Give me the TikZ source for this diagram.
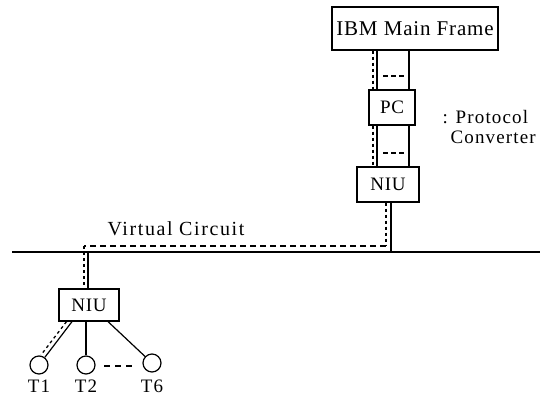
\documentclass[tikz,border=0pt]{standalone}
\usepackage{fontspec}
\setmainfont{Liberation Serif}
\usetikzlibrary{positioning,calc}

\tikzset{
    box/.style={draw, line width=1.2pt, inner sep=0pt,
        font=\fontsize{19}{21}\selectfont\addfontfeature{LetterSpace=4}},
    term/.style={draw, circle, line width=1.2pt, minimum size=18pt, inner sep=0pt},
    vcline/.style={line width=1.3pt, dash pattern=on 6pt off 4pt},
    vcdot/.style={line width=1.3pt, dash pattern=on 3pt off 3pt},
    gap/.style={line width=1.3pt, dash pattern=on 5pt off 3pt},
    txt/.style={inner sep=0pt, font=\fontsize{19}{22}\selectfont\addfontfeature{LetterSpace=6}}
}

\begin{document}
\begin{tikzpicture}[x=1pt, y=-1pt, line width=1.2pt]
    \useasboundingbox (0,0) rectangle (551,402);

    % host side
    \node[box, minimum width=166pt, minimum height=43pt,
        font=\fontsize{21}{23}\selectfont\addfontfeature{LetterSpace=4}] (ibm) at (415,28.5) {IBM Main Frame};
    \node[box, minimum width=46pt, minimum height=35pt] (pc) at (392,107.5) {PC};
    \node[box, minimum width=62pt, minimum height=35pt] (niuA) at (388,184.5) {NIU};
    \node[txt, anchor=west] (pcnote) at (442,117) {: Protocol};
    \node[txt, anchor=west] (pcnote2) at (450,137) {Converter};

    % lines between host, PC and NIU
    \coordinate (ll) at (377,0);
    \coordinate (lr) at (409,0);
    \foreach \a/\b in {ibm/pc, pc/niuA} {
        \draw (ll |- \a.south) -- (ll |- \b.north);
        \draw (lr |- \a.south) -- (lr |- \b.north);
    }
    \draw[vcdot] (ibm.south -| 373,0) -- (pc.north -| 373,0);
    \draw[vcdot] (pc.south -| 373,0) -- (niuA.north -| 373,0);
    \draw[gap] (383,76) -- (404,76);
    \draw[gap] (383,153) -- (404,153);

    % bus
    \coordinate (busL) at (12,252);
    \coordinate (busR) at (540,252);
    \draw (busL) -- (busR);
    \draw (niuA.south -| 391,0) -- (busL -| 391,0);

    % terminal side
    \node[box, minimum width=60pt, minimum height=32pt] (niuB) at (89,305) {NIU};
    \draw (busL -| 88,0) -- (niuB.north -| 88,0);
    \node[term] (t1) at (39,365) {};
    \node[term] (t2) at (86,365) {};
    \node[term] (t6) at (152,363) {};
    \node[txt, below=5pt of t1] (t1lbl) {T1};
    \node[txt, below=5pt of t2] (t2lbl) {T2};
    \node[txt, below=7pt of t6] (t6lbl) {T6};
    \draw (niuB.south -| 72,0) -- (t1);
    \draw (niuB.south -| t2) -- (t2);
    \draw (niuB.south -| 108,0) -- (t6);
    \draw[gap, dash pattern=on 6pt off 5pt] (104,366) -- (132,366);

    % virtual circuit
    \draw[vcdot] (niuA.south -| 386,0) -- (386,246);
    \draw[vcline] (386,246) -- (84,246);
    \draw[vcdot] (84,246) -- (niuB.north -| 84,0);
    \draw[vcdot] (niuB.south -| 66.5,0) -- (41,355);
    \node[txt, anchor=west, font=\fontsize{20}{22}\selectfont\addfontfeature{LetterSpace=8}] (vclbl) at (107,229) {Virtual Circuit};
\end{tikzpicture}
\end{document}
